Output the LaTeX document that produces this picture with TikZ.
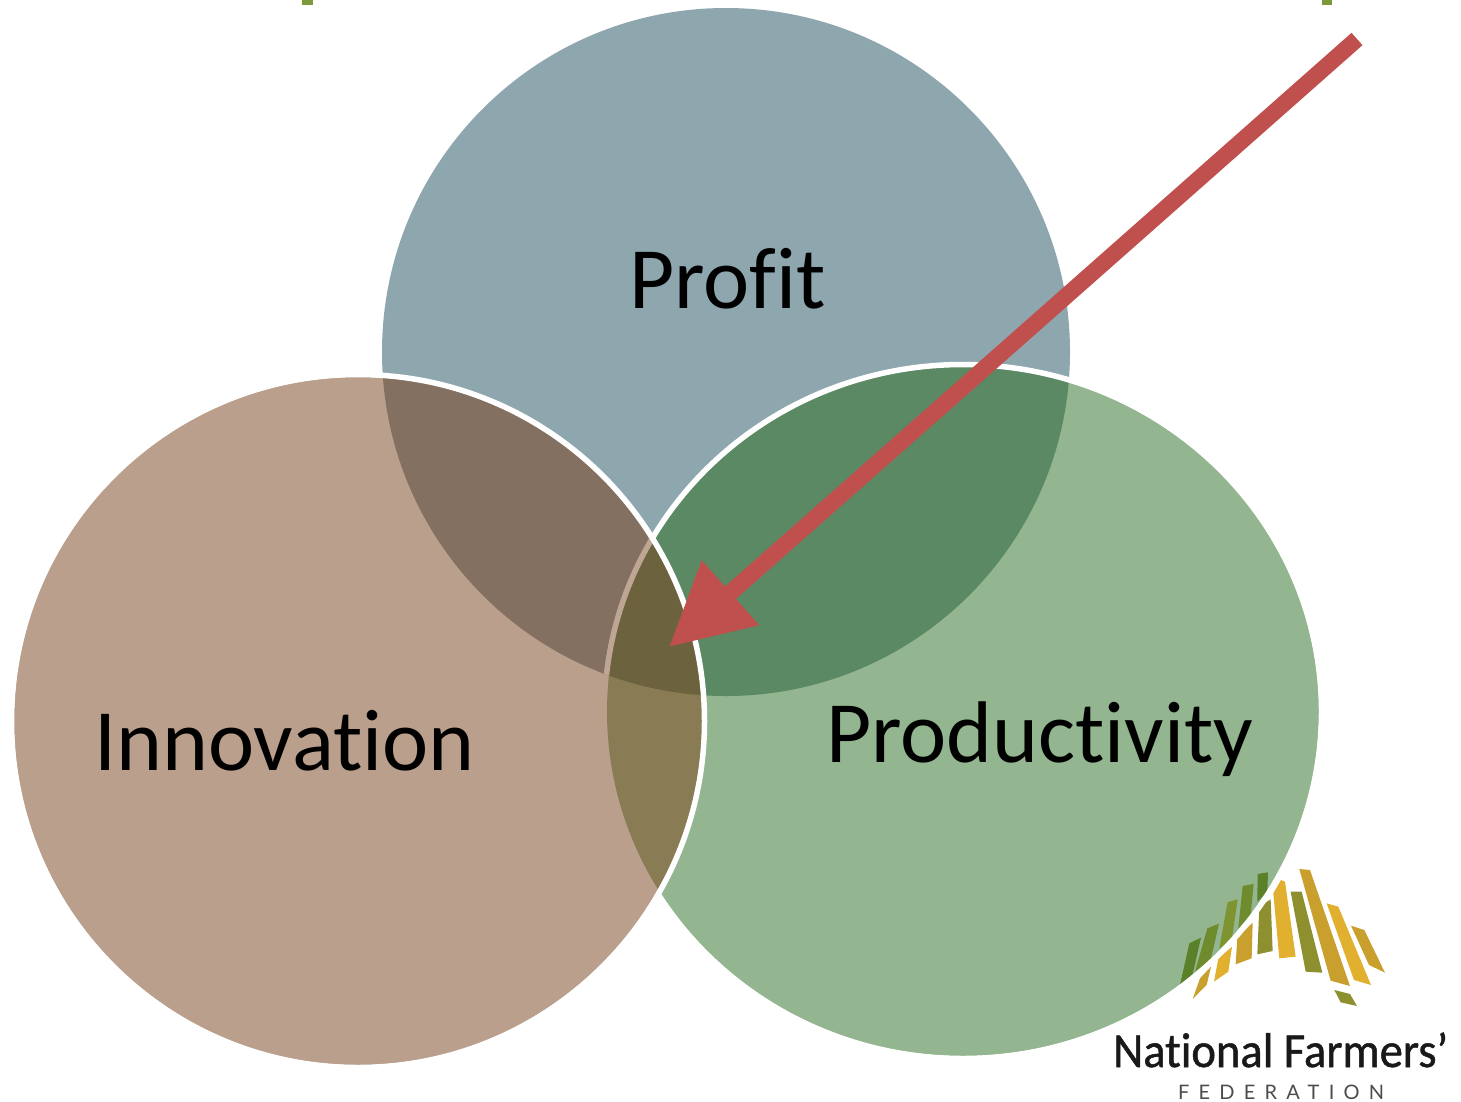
\documentclass[tikz,border=0pt]{standalone}
\usepackage{fontspec}
\setmainfont[Ligatures=NoCommon,Contextuals=NoAlternate]{Carlito}
\newfontfamily\logofont[FakeStretch=0.95,FakeBold=1,Ligatures=NoCommon]{Carlito}
\newfontfamily\logothin[LetterSpace=46]{Lato}
\usetikzlibrary{arrows.meta}
\definecolor{cProfit}{HTML}{8EA6AE}
\definecolor{cInno}{HTML}{B99F8C}
\definecolor{cProd}{HTML}{93B58F}
\definecolor{cPP}{HTML}{5B8964}
\definecolor{cPI}{HTML}{847060}
\definecolor{cIP}{HTML}{897B54}
\definecolor{cAll}{HTML}{6C633E}
\definecolor{cEdge}{HTML}{BFA694}
\definecolor{cArrow}{HTML}{C0504D}
\definecolor{cMark}{HTML}{7D9A3A}
\definecolor{lgA}{HTML}{5A8029}
\definecolor{lgB}{HTML}{6E8C2E}
\definecolor{lgC}{HTML}{7D9430}
\definecolor{lgD}{HTML}{C9A02E}
\definecolor{lgE}{HTML}{E0B02E}
\definecolor{lgF}{HTML}{8E9030}
\def\pathProfit{(726,352) ellipse [x radius=344pt, y radius=344pt]}
\def\pathInno{(358,721) ellipse [x radius=344pt, y radius=344pt]}
\def\pathProd{(963,711.5) ellipse [x radius=356pt, y radius=344.5pt]}
\def\ringProd{(963,711.5) ellipse [x radius=358.5pt, y radius=347pt]}
\tikzset{
  outline/.style={draw=white,line width=5.5pt},
  biglabel/.style={anchor=base west,inner sep=0pt,font=\fontsize{87.5}{90}\selectfont,text=black}
}
\begin{document}
\begin{tikzpicture}[x=1pt,y=-1pt]
\useasboundingbox (0,0) rectangle (1461,1101);
\fill[white] (0,0) rectangle (1461,1101);
% top marks
\fill[cMark] (302,0) rectangle (313,5);
\fill[cMark] (1322,0) rectangle (1332,5);
% fills
\fill[cProfit] \pathProfit;
\fill[cProd] \pathProd;
\fill[cInno] \pathInno;
\begin{scope}\clip \pathProfit; \fill[cPP] \pathProd; \fill[cPI] \pathInno; \end{scope}
\begin{scope}\clip \pathInno; \fill[cIP] \pathProd; \end{scope}
\begin{scope}\clip \pathInno; \clip \pathProd; \fill[cAll] \pathProfit; \end{scope}
% logo bars
\begin{scope}[shift={(1100,850)},x=0.3333pt,y=-0.3333pt]
\fill[lgA] (268,280)--(303,263)--(278,372)--(240,405)--cycle;
\fill[lgB] (322,235)--(357,221)--(332,330)--(285,365)--cycle;
\fill[lgC] (383,157)--(413,148)--(395,270)--(358,295)--cycle;
\fill[lgB] (428,108)--(461,102)--(452,195)--(415,235)--cycle;
\fill[lgA] (473,72)--(504,67)--(502,125)--(472,155)--cycle;
\fill[lgD] (300,385)--(333,350)--(320,405)--(278,447)--cycle;
\fill[lgE] (355,325)--(396,290)--(385,365)--(342,395)--cycle;
\fill[lgD] (412,262)--(458,218)--(455,325)--(407,343)--cycle;
\fill[lgF] (478,170)--(512,148)--(518,303)--(472,313)--cycle;
\fill[lgE] (520,130)--(543,90)--(555,95)--(587,320)--(538,325)--cycle;
\fill[lgF] (572,125)--(605,125)--(667,368)--(617,365)--cycle;
\fill[lgD] (598,57)--(630,60)--(750,408)--(692,392)--cycle;
\fill[lgE] (680,160)--(715,170)--(813,405)--(762,390)--cycle;
\fill[lgD] (753,227)--(793,240)--(855,368)--(807,345)--cycle;
\fill[lgF] (703,420)--(750,432)--(771,468)--(722,457)--cycle;
\end{scope}
% outlines
\begin{scope}[even odd rule]
\clip (0,0) rectangle (1461,1101) \pathInno;
\draw[outline] \ringProd;
\end{scope}
\begin{scope}\clip \pathInno; \clip \pathProfit; \draw[draw=cEdge,line width=5.5pt] \ringProd; \end{scope}
\draw[outline] (358,721) ellipse [x radius=346.5pt, y radius=346.5pt];
% labels
\node[biglabel] (profit) at (629,308) {Profit};
\node[biglabel] (innovation) at (94,770) {Innovation};
\node[biglabel] (productivity) at (826,762) {Productivity};
% arrow
\coordinate (arrowstart) at (1357,39);
\coordinate (arrowtip) at (669,647);
\draw[cArrow,line width=16.5pt,-{Triangle[length=82pt,width=82pt]}] (arrowstart) -- (arrowtip);
% logo text
\node[anchor=base west,inner sep=0pt,text=black!90] (nff) at (1113,1067) {\logofont\fontsize{49}{49}\selectfont National Farmers’};
\node[anchor=base west,inner sep=0pt,text=black!70] (fed) at (1178,1099) {\logothin\fontsize{20}{20}\selectfont FEDERATION};
\end{tikzpicture}
\end{document}
